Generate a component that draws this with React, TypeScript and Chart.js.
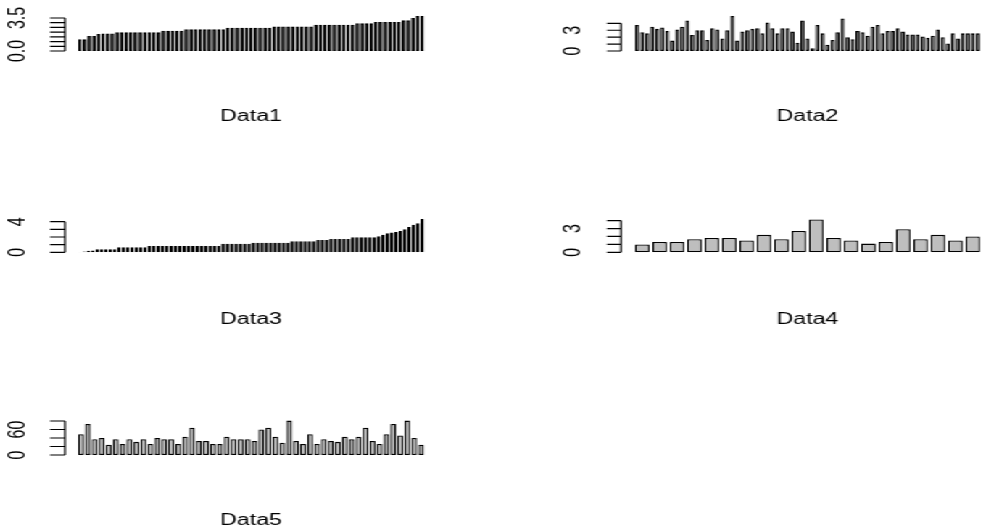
import React, { useEffect, useRef } from "react";
import { Chart, registerables } from "chart.js";
Chart.register(...registerables);

// ---------- data ----------
const data1 = [
  1.25, 1.25, 1.6, 1.6, 1.8, 1.86, 1.86, 1.86,
  2.0, 2.0, 2.0, 2.0, 2.0, 2.0, 2.0, 2.0, 2.0, 2.0,
  2.14, 2.14, 2.14, 2.14, 2.14,
  2.32, 2.32, 2.32, 2.32, 2.32, 2.32, 2.32, 2.32, 2.32,
  2.46, 2.46, 2.46, 2.46, 2.46, 2.46, 2.46, 2.46, 2.46, 2.46,
  2.6, 2.6, 2.6, 2.6, 2.6, 2.6, 2.6, 2.6, 2.6,
  2.79, 2.79, 2.79, 2.79, 2.79, 2.79, 2.79, 2.79, 2.79,
  2.93, 2.93, 2.93, 2.93,
  3.07, 3.07, 3.07, 3.07, 3.07, 3.07,
  3.25, 3.25, 3.5, 3.71, 3.71,
];
const data2 = [
  3.76, 2.7, 2.55, 3.5, 3.2, 3.4, 2.9, 1.5, 3.1, 3.5,
  4.4, 2.3, 3.0, 3.0, 1.6, 3.3, 3.1, 1.8, 3.0, 5.06,
  1.5, 2.8, 3.0, 3.2, 3.3, 2.55, 4.1, 3.3, 2.55, 3.3,
  3.3, 2.8, 1.2, 4.4, 1.8, 0.4, 3.76, 2.55, 0.9, 1.6,
  2.7, 4.7, 2.0, 1.7, 2.9, 2.7, 2.2, 3.5, 3.76, 2.55,
  2.9, 2.9, 3.3, 2.8, 2.4, 2.4, 2.4, 2.1, 1.9, 2.2,
  3.1, 2.0, 1.1, 2.55, 1.8, 2.55, 2.55, 2.55, 2.55,
];
const data3 = [
  0.05, 0.12, 0.2, 0.25,
  0.4, 0.4, 0.4, 0.4, 0.4,
  0.65, 0.65, 0.65, 0.65, 0.65, 0.65, 0.65,
  0.83, 0.83, 0.83, 0.83, 0.83, 0.83, 0.83, 0.83, 0.83, 0.83, 0.83, 0.83, 0.83, 0.83, 0.83, 0.83, 0.83,
  1.13, 1.13, 1.13, 1.13, 1.13, 1.13, 1.13,
  1.26, 1.26, 1.26, 1.26, 1.26, 1.26, 1.26, 1.26, 1.26,
  1.43, 1.43, 1.43, 1.43, 1.43, 1.43,
  1.6, 1.6, 1.6,
  1.74, 1.74, 1.74, 1.74, 1.74,
  1.96, 1.96, 1.96, 1.96, 1.96, 1.96,
  2.1, 2.3, 2.5, 2.6, 2.65, 2.8, 3.0, 3.3, 3.6, 3.8, 4.35,
];
const data4 = [
  1.0, 1.3, 1.3, 1.65, 1.8, 1.8, 1.5, 2.2, 1.65, 2.7,
  4.15, 1.8, 1.5, 1.1, 1.3, 2.9, 1.65, 2.2, 1.5, 2.0,
];
const data5 = [
  49, 73, 37, 40, 24, 37, 26, 37, 31, 37,
  26, 40, 37, 37, 26, 43, 64, 33, 33, 26,
  26, 43, 37, 37, 37, 33, 60, 64, 43, 29,
  81, 33, 26, 49, 26, 37, 33, 31, 43, 37,
  43, 64, 33, 26, 49, 73, 46, 81, 40, 24,
];

const ticks1 = [0, 0.5, 1, 1.5, 2, 2.5, 3, 3.5];
const ticks2 = [0, 1, 2, 3, 4];
const ticks3 = [0, 1, 2, 3, 4];
const ticks4 = [0, 1, 2, 3, 4];
const ticks5 = [0, 20, 40, 60, 80];

const shown1 = ["0.0", "3.5"];
const shown2 = ["0", "3"];
const shown3 = ["0", "4"];
const shown4 = ["0", "3"];
const shown5 = ["0", "60"];

const titles = ["Data1", "Data2", "Data3", "Data4", "Data5"];

// ---------- layout (final pixel coords) ----------
const S = 1.45; // horizontal stretch
const W = 981;
const H = 531;
const WU = Math.ceil(W / S);
const FONT = '16px "Liberation Sans", Arial, sans-serif';

type Panel = {
  data: number[];
  ticks: number[];
  shown: string[];
  title: string;
  barsLeft: number;
  barsRight: number;
  baseline: number;
  unit: number;
  maxY: number;
  axisX: number;
  tickLen: number;
  labelX: number;
  titleY: number;
};

const panels: Panel[] = [
  { data: data1, ticks: ticks1, shown: shown1, title: titles[0], barsLeft: 78, barsRight: 424, baseline: 51, unit: 33 / 3.5, maxY: 4, axisX: 65, tickLen: 15, labelX: 18, titleY: 117 },
  { data: data2, ticks: ticks2, shown: shown2, title: titles[1], barsLeft: 635, barsRight: 980, baseline: 51, unit: 27.7 / 4, maxY: 5.5, axisX: 621, tickLen: 14, labelX: 574, titleY: 117 },
  { data: data3, ticks: ticks3, shown: shown3, title: titles[2], barsLeft: 78, barsRight: 424, baseline: 252.3, unit: 30.6 / 4, maxY: 4.6, axisX: 65, tickLen: 15, labelX: 18, titleY: 320 },
  { data: data4, ticks: ticks4, shown: shown4, title: titles[3], barsLeft: 635, barsRight: 980, baseline: 252.3, unit: 31.7 / 4, maxY: 4.6, axisX: 621, tickLen: 14, labelX: 574, titleY: 320 },
  { data: data5, ticks: ticks5, shown: shown5, title: titles[4], barsLeft: 78, barsRight: 424, baseline: 455, unit: 34 / 80, maxY: 90, axisX: 65, tickLen: 15, labelX: 18, titleY: 521 },
];

function makeAxisPlugin(p: Panel) {
  return {
    id: "rAxis",
    afterDraw(chart: any) {
      const ctx = chart.ctx as CanvasRenderingContext2D;
      const y = chart.scales.y;
      const ax = p.axisX / S;
      ctx.save();
      ctx.strokeStyle = "#000";
      ctx.lineWidth = 1.2;
      ctx.beginPath();
      const y0 = y.getPixelForValue(p.ticks[0]);
      const y1 = y.getPixelForValue(p.ticks[p.ticks.length - 1]);
      ctx.moveTo(ax, y0);
      ctx.lineTo(ax, y1);
      p.ticks.forEach((t) => {
        const py = y.getPixelForValue(t);
        ctx.moveTo(ax, py);
        ctx.lineTo(ax - p.tickLen / S, py);
      });
      ctx.stroke();
      ctx.fillStyle = "#000";
      ctx.font = FONT;
      ctx.textAlign = "center";
      ctx.textBaseline = "middle";
      p.shown.forEach((lab) => {
        const py = y.getPixelForValue(parseFloat(lab));
        ctx.save();
        ctx.translate(p.labelX / S, py);
        ctx.rotate(-Math.PI / 2);
        ctx.fillText(lab, 0, 0);
        ctx.restore();
      });
      const ca = chart.chartArea;
      ctx.fillText(p.title, (ca.left + ca.right) / 2, p.titleY);
      ctx.restore();
    },
  };
}

function PanelChart({ p }: { p: Panel }) {
  const ref = useRef<HTMLCanvasElement | null>(null);
  useEffect(() => {
    if (!ref.current) return;
    const n = p.data.length;
    const pitch = ((p.barsRight - p.barsLeft) * 1.2) / (n * 1.2 - 0.2);
    const areaL = (p.barsLeft - pitch / 12) / S;
    const areaR = (p.barsRight + pitch / 12) / S;
    const top = p.baseline - p.maxY * p.unit;
    const chart = new Chart(ref.current, {
      type: "bar",
      data: {
        labels: p.data.map((_, i) => String(i + 1)),
        datasets: [
          {
            data: p.data,
            backgroundColor: "#bebebe",
            borderColor: "#000000",
            borderWidth: 1.3,
            borderSkipped: false,
            categoryPercentage: 1,
            barPercentage: 1 / 1.2,
          },
        ],
      },
      options: {
        responsive: false,
        animation: false,
        events: [],
        layout: {
          padding: { left: areaL, right: WU - areaR, top: top, bottom: H - p.baseline },
        },
        scales: {
          x: { display: false, offset: true, grid: { display: false } },
          y: { display: false, min: 0, max: p.maxY },
        },
        plugins: { legend: { display: false }, tooltip: { enabled: false }, title: { display: false } },
      },
      plugins: [makeAxisPlugin(p)],
    });
    return () => chart.destroy();
  }, [p]);
  return (
    <canvas
      ref={ref}
      width={WU}
      height={H}
      style={{ position: "absolute", left: 0, top: 0, width: WU, height: H }}
    />
  );
}

export default function App() {
  return (
    <div style={{ position: "fixed", left: 0, top: 0, width: W, height: H, overflow: "hidden", background: "#fff" }}>
      <div style={{ position: "absolute", left: 0, top: 0, width: WU, height: H, transform: `scaleX(${S})`, transformOrigin: "0 0" }}>
        {panels.map((p, i) => (
          <PanelChart key={i} p={p} />
        ))}
      </div>
    </div>
  );
}
